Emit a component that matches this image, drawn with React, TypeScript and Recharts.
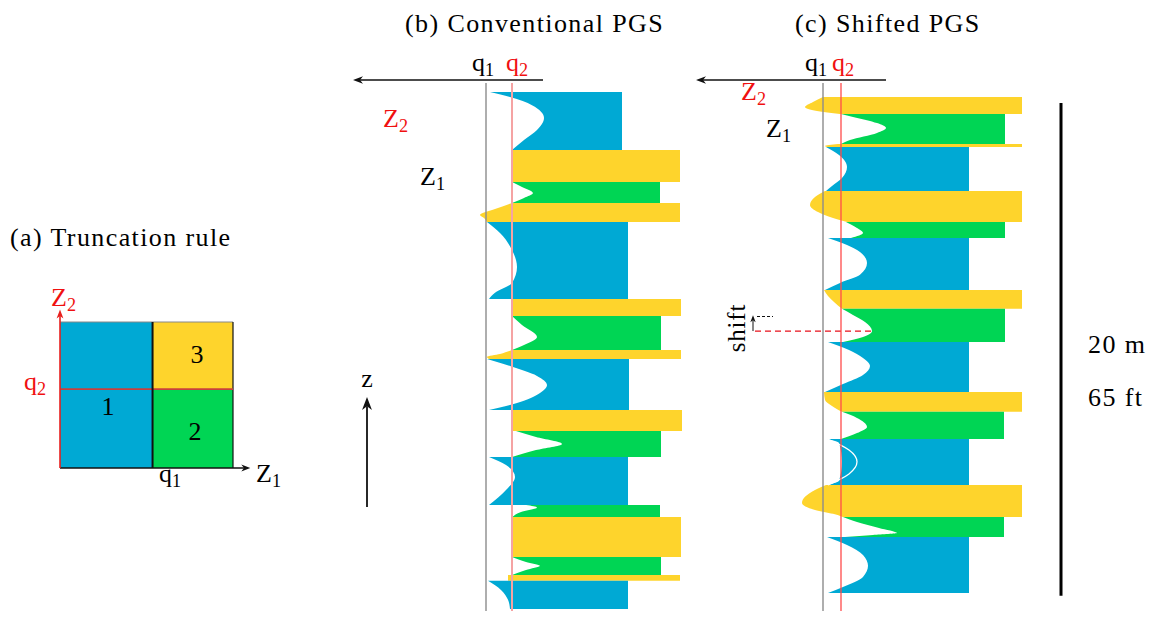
import React from 'react';
import { ComposedChart, Area, Line, XAxis, YAxis, ReferenceLine, ReferenceArea } from 'recharts';

// ---------- Facies (categories) ----------
const FACIES = [1, 2, 3];
const COLORS: Record<number, string> = { 1: '#00a9d4', 2: '#00d554', 3: '#fed42c' };

// ---------- (a) Truncation rule: thresholds in cumulative probability ----------
const TR_Q1 = 0.535;
const TR_Q2 = 0.54;
const TR_CELLS = [
  { facies: 1, z1: [0, TR_Q1], z2: [0, 1] },
  { facies: 3, z1: [TR_Q1, 1], z2: [TR_Q2, 1] },
  { facies: 2, z1: [TR_Q1, 1], z2: [0, TR_Q2] },
];

// ---------- (b) Conventional PGS: bands (depth in m, left edge = Gaussian value, end = track extent) ----------
const B_Q1 = 0;
const B_Q2 = 2.6;
const B_BANDS = [
  { f: 1, d: [0.49, 0.69, 1.02, 1.54, 2.03, 2.44, 2.84], z: [0.4, 2.4, 4.6, 5.8, 5.1, 3.8, 2.6], end: 13.6 },
  { f: 3, d: [2.84, 4.14], z: [2.6, 2.6], end: 19.4 },
  { f: 2, d: [4.14, 4.34, 4.59, 4.79, 4.99], z: [2.6, 3.6, 4.7, 3.8, 2.6], end: 17.4 },
  { f: 3, d: [4.99, 5.24, 5.48, 5.6, 5.76], z: [2.6, 0.9, -0.6, -0.2, 0.1], end: 19.4 },
  { f: 1, d: [5.76, 6.21, 6.9, 7.59, 8.24, 8.64, 8.89], z: [0.1, 1.4, 2.6, 3.1, 2.6, 0.9, 0.3], end: 14.2 },
  { f: 3, d: [8.89, 9.58], z: [2.6, 2.6], end: 19.5 },
  { f: 2, d: [9.58, 9.94, 10.43, 10.76, 10.96], z: [2.6, 3.6, 5.1, 3.8, 2.6], end: 17.5 },
  { f: 3, d: [10.96, 11.12, 11.24, 11.32], z: [2.6, 1.4, 0.1, 0.3], end: 19.5 },
  { f: 1, d: [11.32, 11.61, 12.01, 12.38, 12.7, 13.11, 13.39], z: [0.1, 2.4, 5.1, 6.1, 5.4, 3.1, 0.3], end: 14.3 },
  { f: 3, d: [13.39, 14.25], z: [2.6, 2.6], end: 19.6 },
  { f: 2, d: [14.25, 14.49, 14.77, 15.02, 15.3], z: [3.0, 5.0, 7.6, 5.0, 2.6], end: 17.5 },
  { f: 1, d: [15.3, 15.63, 16.11, 16.64, 17.25], z: [0.3, 2.0, 2.9, 2.0, 0.3], end: 14.2 },
  { f: 2, d: [17.25, 17.35, 17.53, 17.74], z: [4.0, 5.1, 3.5, 2.6], end: 17.4 },
  { f: 3, d: [17.74, 19.36], z: [2.6, 2.6], end: 19.5 },
  { f: 2, d: [19.36, 19.56, 19.72, 19.89, 20.09], z: [2.6, 4.0, 5.4, 4.0, 2.6], end: 17.5 },
  { f: 3, d: [20.09, 20.33], z: [2.2, 2.2], end: 19.4 },
  { f: 1, d: [20.33, 20.7, 21.1, 21.47], z: [0.2, 1.5, 2.2, 2.4], end: 14.2 },
];

// ---------- (c) Shifted PGS ----------
const C_Q1 = 0;
const C_Q2 = 1.8;
const C_BANDS = [
  { f: 3, d: [0.69, 0.89, 1.1, 1.26, 1.38], z: [0.0, -1.0, -1.8, -0.6, 1.7], end: 19.9 },
  { f: 2, d: [1.38, 1.5, 1.75, 1.95, 2.15, 2.44, 2.6], z: [1.8, 3.0, 5.4, 6.3, 5.4, 2.7, 1.8], end: 18.2 },
  { f: 3, d: [2.6, 2.68, 2.72], z: [1.5, 0.2, 0.4], end: 19.9 },
  { f: 1, d: [2.72, 3.04, 3.53, 3.98, 4.3, 4.51], z: [0.3, 1.6, 2.4, 1.9, 0.9, 0.3], end: 14.6 },
  { f: 3, d: [4.51, 4.75, 5.07, 5.36, 5.6, 5.76], z: [0.2, -0.8, -1.3, -0.5, 1.0, 2.4], end: 19.9 },
  { f: 2, d: [5.76, 6.01, 6.21, 6.41], z: [2.3, 3.4, 4.0, 2.8], end: 18.2 },
  { f: 1, d: [6.41, 6.7, 6.98, 7.43, 7.91, 8.24, 8.52], z: [0.5, 2.4, 3.7, 4.4, 3.7, 1.7, 0.2], end: 14.6 },
  { f: 3, d: [8.52, 8.77, 9.01, 9.29], z: [0.1, 0.5, 1.1, 1.9], end: 19.9 },
  { f: 2, d: [9.29, 9.54, 9.82, 10.19, 10.43, 10.63], z: [1.9, 3.0, 4.2, 4.9, 4.0, 2.0], end: 18.2 },
  { f: 1, d: [10.63, 10.96, 11.28, 11.61, 11.97, 12.34, 12.66], z: [0.5, 2.6, 4.0, 4.7, 4.0, 2.0, 0.2], end: 14.6 },
  { f: 3, d: [12.66, 12.99, 13.23, 13.47], z: [0.1, 0.2, 0.9, 1.9], end: 19.9 },
  { f: 2, d: [13.47, 13.72, 14.08, 14.33, 14.57], z: [1.9, 3.4, 4.4, 3.4, 1.8], end: 18.1 },
  { f: 1, d: [14.57, 14.73, 15.5, 16.27, 16.44], z: [0.4, 1.6, 1.9, 1.6, 0.5], end: 14.6 },
  { f: 3, d: [16.44, 16.64, 16.92, 17.17, 17.45, 17.61, 17.74], z: [0.3, -0.8, -1.8, -2.1, -0.8, 1.0, 2.0], end: 19.9 },
  { f: 2, d: [17.74, 17.94, 18.18, 18.39, 18.47, 18.55], z: [2.0, 3.4, 5.6, 7.4, 5.0, 2.2], end: 18.1 },
  { f: 1, d: [18.55, 18.87, 19.28, 19.72, 20.17, 20.58, 20.82], z: [0.4, 2.4, 4.0, 4.5, 4.0, 2.0, 0.5], end: 14.6 },
];
const C_TRACE = { d: [14.57, 15.02, 15.5, 15.99, 16.44], z: [0.4, 2.6, 3.4, 2.6, 0.5] };

// shift annotation (depth of Z2 peak, and shifted depth)
const SHIFT_FROM = 10.19;
const SHIFT_TO = 9.6;
const SCALE_BAR = [0.93, 20.93]; // 20 m

// ---------- helpers ----------
const FONT = "'Liberation Serif', 'Times New Roman', serif";
const W = 1154;
const H = 626;

const arrow = (color: string, w: number, head = 10) => (p: any) => {
  const { x1, y1, x2, y2 } = p;
  const a = Math.atan2(y2 - y1, x2 - x1);
  const c = Math.cos(a);
  const s = Math.sin(a);
  const hw = head * 0.38;
  const bx = x2 - head * c;
  const by = y2 - head * s;
  const nx = x2 - head * 0.7 * c;
  const ny = y2 - head * 0.7 * s;
  return (
    <g>
      <line x1={x1} y1={y1} x2={nx} y2={ny} stroke={color} strokeWidth={w} />
      <path d={`M${x2},${y2}L${bx - hw * s},${by + hw * c}L${nx},${ny}L${bx + hw * s},${by - hw * c}Z`} fill={color} />
    </g>
  );
};

const toPts = (b: { d: number[]; z: number[]; end: number }) => b.d.map((d, i) => ({ d, v: [b.z[i], b.end] }));

const Sub = ({ x, y, m, s, fill = '#000', size = 26 }: any) => (
  <text x={x} y={y} fill={fill} fontSize={size} fontFamily={FONT}>
    {m}
    <tspan fontSize={size * 0.7} dy={size * 0.18}>{s}</tspan>
  </text>
);
const T = ({ x, y, children, fill = '#000', size = 26, ls = 1.4, anchor = 'start', transform }: any) => (
  <text x={x} y={y} fill={fill} fontSize={size} fontFamily={FONT} letterSpacing={ls} textAnchor={anchor} transform={transform}>
    {children}
  </text>
);

const abs: React.CSSProperties = { position: 'absolute', left: 0, top: 0 };

function PanelA() {
  return (
    <ComposedChart width={W} height={H} margin={{ left: 60, right: W - 233, top: 322, bottom: H - 468 }}>
      <XAxis type="number" dataKey="z1" domain={[0, 1]} allowDataOverflow hide />
      <YAxis type="number" dataKey="z2" domain={[0, 1]} allowDataOverflow hide />
      {TR_CELLS.map((c) => (
        <ReferenceArea key={c.facies} x1={c.z1[0]} x2={c.z1[1]} y1={c.z2[0]} y2={c.z2[1]} fill={COLORS[c.facies]} fillOpacity={1} stroke="none" ifOverflow="visible" />
      ))}
      <ReferenceLine segment={[{ x: 0, y: 1 }, { x: 1, y: 1 }]} stroke="#888" strokeWidth={1} ifOverflow="visible" />
      <ReferenceLine segment={[{ x: 1, y: 0 }, { x: 1, y: 1 }]} stroke="#111" strokeWidth={1.2} ifOverflow="visible" />
      <ReferenceLine segment={[{ x: 0, y: TR_Q2 }, { x: 1, y: TR_Q2 }]} stroke="#c8403c" strokeWidth={1.6} ifOverflow="visible" />
      <ReferenceLine segment={[{ x: TR_Q1, y: 0 }, { x: TR_Q1, y: 1 }]} stroke="#111" strokeWidth={2} ifOverflow="visible" />
      <ReferenceLine segment={[{ x: 0, y: 0 }, { x: 1.1, y: 0 }]} shape={arrow('#111', 1.3, 9)} ifOverflow="visible" />
      <ReferenceLine segment={[{ x: 0, y: 0 }, { x: 0, y: 1.085 }]} shape={arrow('#e8201e', 1.6, 9)} ifOverflow="visible" />
    </ComposedChart>
  );
}

function TrackPanel({ bands, q1, q2, q2Color, q2Width, domain, margin, extra }: any) {
  return (
    <ComposedChart width={W} height={H} layout="vertical" margin={margin}>
      <XAxis type="number" domain={domain} allowDataOverflow hide />
      <YAxis type="number" dataKey="d" domain={[0, 22]} allowDataOverflow hide />
      {bands.map((b: any, i: number) => (
        <Area
          key={i}
          data={toPts(b)}
          dataKey="v"
          type="monotone"
          fill={COLORS[b.f]}
          fillOpacity={1}
          stroke="none"
          dot={false}
          activeDot={false}
          isAnimationActive={false}
        />
      ))}
      {extra}
      <ReferenceLine segment={[{ x: q1, y: 0.12 }, { x: q1, y: 21.55 }]} stroke="#8c8c8c" strokeWidth={1.4} ifOverflow="visible" />
      <ReferenceLine segment={[{ x: q2, y: 0.12 }, { x: q2, y: 21.55 }]} stroke={q2Color} strokeWidth={q2Width} ifOverflow="visible" />
    </ComposedChart>
  );
}

export default function App() {
  return (
    <div style={{ ...abs, width: W, height: H, background: '#fff' }}>
      <div style={abs}>
        <PanelA />
      </div>
      <div style={abs}>
        <TrackPanel
          bands={B_BANDS}
          q1={B_Q1}
          q2={B_Q2}
          q2Color="#f5a3a3"
          q2Width={2}
          domain={[-13.6, 20.4]}
          margin={{ left: 350, right: W - 690, top: 80, bottom: 4 }}
          extra={[
            <ReferenceLine key="arr" segment={[{ x: 5.7, y: 0 }, { x: -13.3, y: 0 }]} shape={arrow('#111', 1.3, 10)} ifOverflow="visible" />,
            <ReferenceLine key="zarr" segment={[{ x: -11.9, y: 17.33 }, { x: -11.9, y: 12.87 }]} shape={arrow('#111', 1.8, 13)} ifOverflow="visible" />,
          ]}
        />
      </div>
      <div style={abs}>
        <TrackPanel
          bands={C_BANDS}
          q1={C_Q1}
          q2={C_Q2}
          q2Color="#ff4b4b"
          q2Width={1.3}
          domain={[-12.7, 32.7]}
          margin={{ left: 696, right: 4, top: 80, bottom: 4 }}
          extra={[
            <Line
              key="trace"
              data={C_TRACE.d.map((d, i) => ({ d, w: C_TRACE.z[i] }))}
              dataKey="w"
              type="monotone"
              stroke="#ffffff"
              strokeWidth={1.3}
              dot={false}
              activeDot={false}
              isAnimationActive={false}
            />,
            <ReferenceLine key="arr" segment={[{ x: 6.3, y: 0 }, { x: -12.7, y: 0 }]} shape={arrow('#111', 1.3, 10)} ifOverflow="visible" />,
            <ReferenceLine key="sh1" segment={[{ x: -6.8, y: SHIFT_FROM }, { x: 4.9, y: SHIFT_FROM }]} stroke="#e8101a" strokeWidth={1.2} strokeDasharray="6 4" ifOverflow="visible" />,
            <ReferenceLine key="sh2" segment={[{ x: -6.6, y: SHIFT_TO }, { x: -5.0, y: SHIFT_TO }]} stroke="#111" strokeWidth={1} strokeDasharray="3 2" ifOverflow="visible" />,
            <ReferenceLine key="sh3" segment={[{ x: -7.0, y: SHIFT_FROM }, { x: -7.0, y: SHIFT_TO - 0.05 }]} shape={arrow('#111', 1, 7)} ifOverflow="visible" />,
            <ReferenceLine key="scale" segment={[{ x: 23.8, y: SCALE_BAR[0] }, { x: 23.8, y: SCALE_BAR[1] }]} stroke="#000" strokeWidth={3} ifOverflow="visible" />,
          ]}
        />
      </div>
      <svg style={{ ...abs, pointerEvents: 'none' }} width={W} height={H}>
        <T x={10} y={246}>(a) Truncation rule</T>
        <T x={405} y={32}>(b) Conventional PGS</T>
        <T x={795} y={32}>(c) Shifted PGS</T>
        {/* panel a */}
        <Sub x={51} y={306} m="Z" s="2" fill="#f01010" />
        <Sub x={24} y={390} m="q" s="2" fill="#f01010" />
        <Sub x={159} y={482} m="q" s="1" />
        <Sub x={256} y={482} m="Z" s="1" />
        <T x={108} y={415} size={26} ls={0} anchor="middle">{String(FACIES[0])}</T>
        <T x={195} y={440} size={26} ls={0} anchor="middle">{String(FACIES[1])}</T>
        <T x={197} y={363} size={26} ls={0} anchor="middle">{String(FACIES[2])}</T>
        {/* panel b */}
        <Sub x={472} y={71} m="q" s="1" />
        <Sub x={506} y={71} m="q" s="2" fill="#f01010" />
        <Sub x={383} y={127} m="Z" s="2" fill="#f01010" />
        <Sub x={420} y={185} m="Z" s="1" />
        <T x={367} y={387} anchor="middle" ls={0}>z</T>
        {/* panel c */}
        <Sub x={805} y={71} m="q" s="1" />
        <Sub x={832} y={71} m="q" s="2" fill="#f01010" />
        <Sub x={741} y={100} m="Z" s="2" fill="#f01010" />
        <Sub x={766} y={137} m="Z" s="1" />
        <T x={745} y={328} size={25} ls={0.8} anchor="middle" transform="rotate(-90 745 328)">shift</T>
        <T x={1088} y={353}>20 m</T>
        <T x={1088} y={406}>65 ft</T>
      </svg>
    </div>
  );
}
